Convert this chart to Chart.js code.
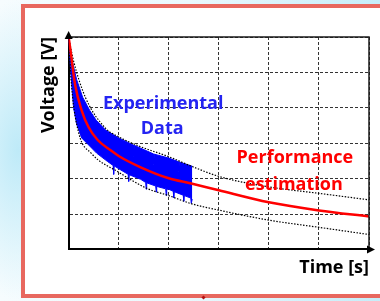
<!DOCTYPE html>
<html>
<head>
<meta charset="utf-8">
<script src="https://cdn.jsdelivr.net/npm/chart.js@4.4.1/dist/chart.umd.min.js"></script>
<style>
  html, body { margin: 0; padding: 0; }
  body {
    width: 380px; height: 301px; overflow: hidden; position: relative;
    background:
      radial-gradient(ellipse 70px 150px at 18px 150px, rgba(190,234,248,1), rgba(255,255,255,0)),
      linear-gradient(to right, #f6fcfe 0%, #eaf8fd 50%, #c6edf9 100%);
  }
  #frame {
    position: absolute; left: 21px; top: 4px; width: 359px; height: 294px;
    box-sizing: border-box; border: 4px solid #E8685F; border-right: none; background: #fff;
  }
  #dot { position: absolute; left: 202px; top: 296px; width: 3px; height: 3px; background: #b01010; transform: rotate(45deg); }
  #wrap { position: absolute; left: 0; top: 0; width: 380px; height: 301px; }
</style>
</head>
<body>
<div id="frame"></div>
<div id="dot"></div>
<div id="wrap"><canvas id="c" width="380" height="301"></canvas></div>
<script>
// ---- data (x and y in grid units, 6 divisions each) ----
const estimX   = [0, 0.04, 0.13, 0.26, 0.40, 0.58, 0.84, 1.00, 1.44, 2.00, 2.43, 3.00, 4.00, 5.00, 6.00];
const estimY   = [6.0, 5.60, 4.65, 3.93, 3.45, 3.09, 2.80, 2.64, 2.32, 2.01, 1.87, 1.67, 1.33, 1.10, 0.93];

const expUpperX = [0, 0.06, 0.16, 0.28, 0.42, 0.55, 0.74, 1.00, 1.29, 1.30, 1.31, 1.44, 1.69, 1.70, 1.71, 2.00, 2.19, 2.20, 2.21, 2.47];
const expUpperY = [6.0, 5.40, 4.80, 4.30, 3.93, 3.65, 3.37, 3.15, 2.95, 2.62, 2.94, 2.86, 2.70, 2.40, 2.69, 2.58, 2.48, 2.20, 2.47, 2.35];

const expLowerX = [0, 0.03, 0.06, 0.10, 0.16, 0.26, 0.40, 0.56, 0.78, 0.89, 0.90, 0.91, 1.00, 1.19, 1.20, 1.21,
                   1.44, 1.54, 1.55, 1.56, 1.74, 1.75, 1.76, 1.94, 1.95, 1.96, 2.00, 2.09, 2.10, 2.11, 2.29, 2.30, 2.31, 2.44, 2.45, 2.47];
const expLowerY = [6.0, 5.30, 4.70, 4.00, 3.55, 3.15, 2.95, 2.72, 2.48, 2.37, 2.12, 2.36, 2.28, 2.12, 1.92, 2.11,
                   1.98, 1.89, 1.70, 1.88, 1.79, 1.62, 1.78, 1.71, 1.52, 1.70, 1.70, 1.64, 1.46, 1.63, 1.53, 1.36, 1.52, 1.45, 1.30, 1.42];

const boundUpX = [0, 0.10, 0.34, 0.74, 1.00, 1.44, 2.00, 2.47, 3.03, 4.03, 5.02, 6.00];
const boundUpY = [6.0, 5.32, 4.28, 3.42, 3.18, 2.90, 2.62, 2.34, 2.05, 1.76, 1.58, 1.40];

const boundLoX = [0, 0.06, 0.20, 0.45, 1.00, 1.57, 2.00, 2.43, 3.03, 4.03, 5.02, 6.00];
const boundLoY = [6.0, 4.60, 3.30, 2.72, 2.18, 1.72, 1.52, 1.30, 1.10, 0.82, 0.62, 0.42];

const xTicks = [0, 1, 2, 3, 4, 5, 6];
const yTicks = [0, 1, 2, 3, 4, 5, 6];

const noteTexts  = ['Experimental', 'Data', 'Performance', 'estimation'];
const noteX      = [1.89, 1.87, 4.52, 4.50];
const noteY      = [4.10, 3.40, 2.58, 1.81];
const noteColors = ['#2424F2', '#2424F2', '#FF0000', '#FF0000'];

const pts = (xs, ys) => xs.map((v, i) => ({ x: v, y: ys[i] }));
const FONT = '"Open Sans", "Liberation Sans", sans-serif';

const deco = {
  id: 'deco',
  afterDatasetsDraw(chart) {
    const { ctx, chartArea: a, scales: { x, y } } = chart;
    ctx.save();
    ctx.strokeStyle = '#1a1a1a';
    ctx.lineWidth = 1.5;
    ctx.setLineDash([]);
    ctx.beginPath();
    ctx.moveTo(a.left, a.top);
    ctx.lineTo(a.right, a.top);
    ctx.lineTo(a.right, a.bottom);
    ctx.stroke();
    ctx.fillStyle = '#000';
    ctx.beginPath();
    ctx.moveTo(a.left, a.top - 6);
    ctx.lineTo(a.left - 4, a.top + 2);
    ctx.lineTo(a.left + 4, a.top + 2);
    ctx.closePath();
    ctx.fill();
    ctx.beginPath();
    ctx.moveTo(a.right + 6, a.bottom);
    ctx.lineTo(a.right - 2, a.bottom - 4);
    ctx.lineTo(a.right - 2, a.bottom + 4);
    ctx.closePath();
    ctx.fill();
    ctx.font = 'bold 18px ' + FONT;
    ctx.textAlign = 'center';
    ctx.textBaseline = 'middle';
    noteTexts.forEach((t, i) => {
      ctx.fillStyle = noteColors[i];
      ctx.fillText(t, x.getPixelForValue(noteX[i]), y.getPixelForValue(noteY[i]));
    });
    ctx.restore();
  }
};

new Chart(document.getElementById('c'), {
  type: 'line',
  data: {
    datasets: [
      { label: 'Experimental upper', data: pts(expUpperX, expUpperY), borderColor: '#0000FF', borderWidth: 1,
        pointRadius: 0, fill: false, order: 3, tension: 0 },
      { label: 'Experimental Data', data: pts(expLowerX, expLowerY), borderColor: '#0000FF', borderWidth: 1,
        backgroundColor: '#0000FF', pointRadius: 0, fill: '-1', order: 3, tension: 0 },
      { label: 'Upper bound', data: pts(boundUpX, boundUpY), borderColor: '#000', borderWidth: 1.2,
        borderDash: [1.5, 1.5], pointRadius: 0, fill: false, order: 2, cubicInterpolationMode: 'monotone' },
      { label: 'Lower bound', data: pts(boundLoX, boundLoY), borderColor: '#000', borderWidth: 1.2,
        borderDash: [1.5, 1.5], pointRadius: 0, fill: false, order: 2, cubicInterpolationMode: 'monotone' },
      { label: 'Performance estimation', data: pts(estimX, estimY), borderColor: '#FF0000', borderWidth: 2.5,
        pointRadius: 0, fill: false, order: 1, cubicInterpolationMode: 'monotone' }
    ]
  },
  options: {
    responsive: false,
    animation: false,
    events: [],
    layout: { padding: { left: 34, right: 11, top: 37, bottom: 22 } },
    plugins: { legend: { display: false }, tooltip: { enabled: false } },
    scales: {
      x: {
        type: 'linear', min: 0, max: 6,
        afterBuildTicks: s => { s.ticks = xTicks.map(v => ({ value: v })); },
        ticks: { display: false },
        grid: { color: '#333', lineWidth: 1, drawTicks: false },
        border: { display: true, color: '#000', width: 2, dash: [3, 2] },
        title: { display: true, text: 'Time [s]', align: 'end', color: '#000',
                 font: { family: FONT, size: 18, weight: 'bold' }, padding: { top: 8, bottom: 0 } }
      },
      y: {
        type: 'linear', min: 0, max: 6,
        afterBuildTicks: s => { s.ticks = yTicks.map(v => ({ value: v })); },
        ticks: { display: false },
        grid: { color: '#333', lineWidth: 1, drawTicks: false },
        border: { display: true, color: '#000', width: 2, dash: [3, 2] },
        title: { display: true, text: 'Voltage [V]', align: 'end', color: '#000',
                 font: { family: FONT, size: 18, weight: 'bold' }, padding: { top: 4, bottom: 9 } }
      }
    }
  },
  plugins: [deco]
});
</script>
</body>
</html>
